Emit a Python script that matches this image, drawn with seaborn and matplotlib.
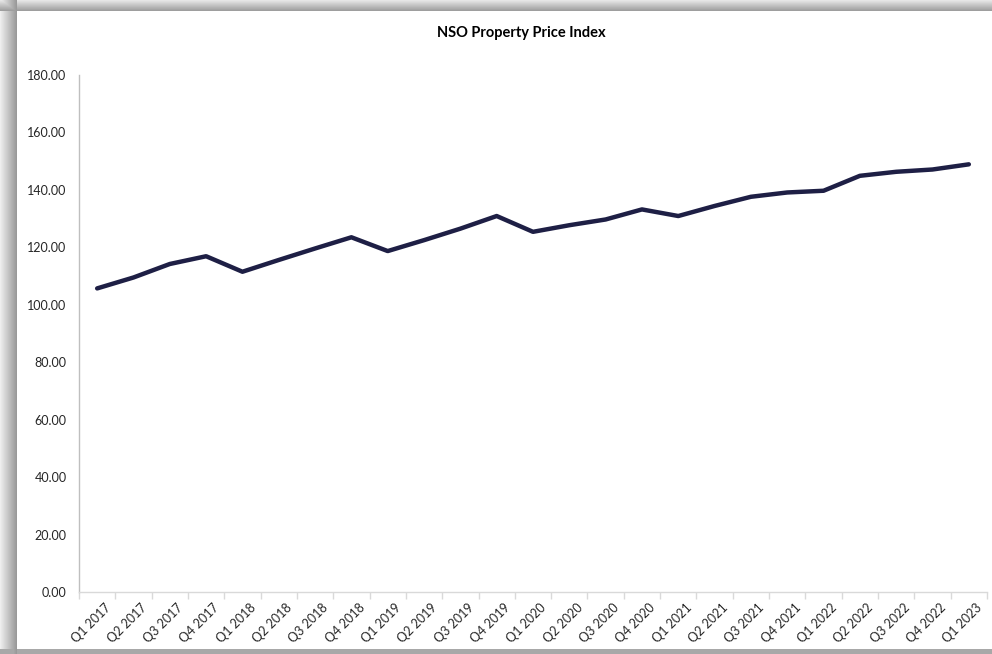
import numpy as np
import pandas as pd
import matplotlib
matplotlib.use("Agg")
import matplotlib.pyplot as plt
from matplotlib.patches import Rectangle
from matplotlib.ticker import FixedLocator, FormatStrFormatter
from matplotlib.transforms import ScaledTranslation
import seaborn as sns

# datos del grafico
trimestres = ["Q1 2017", "Q2 2017", "Q3 2017", "Q4 2017",
              "Q1 2018", "Q2 2018", "Q3 2018", "Q4 2018",
              "Q1 2019", "Q2 2019", "Q3 2019", "Q4 2019",
              "Q1 2020", "Q2 2020", "Q3 2020", "Q4 2020",
              "Q1 2021", "Q2 2021", "Q3 2021", "Q4 2021",
              "Q1 2022", "Q2 2022", "Q3 2022", "Q4 2022",
              "Q1 2023"]
indice = [105.7, 109.5, 114.2, 116.9,
          111.5, 115.6, 119.6, 123.5,
          118.7, 122.5, 126.5, 130.9,
          125.4, 127.7, 129.7, 133.2,
          130.9, 134.4, 137.6, 139.1,
          139.7, 144.9, 146.3, 147.1,
          148.9]
y_ticks = [0, 20, 40, 60, 80, 100, 120, 140, 160, 180]

df = pd.DataFrame({"pos": np.arange(len(trimestres)), "Indice": indice})

sns.set_theme(style="white")
plt.rcParams['font.family'] = ['Lato', 'DejaVu Sans']

W, H = 992, 654
fig = plt.figure(figsize=(W / 100, H / 100), dpi=100)

# sombra del marco (decoracion)
fondo = np.ones((H, W))
fondo[:, :17] = np.linspace(0.93, 0.6, 17)[None, :]
top = np.linspace(0.9, 0.62, 11)[:, None]
fondo[:11, :] = np.minimum(fondo[:11, :], top)
fondo[649:, :] = np.minimum(fondo[649:, :], 0.66)
bg = fig.add_axes([0, 0, 1, 1], zorder=-5)
bg.imshow(fondo, cmap="gray", vmin=0, vmax=1, aspect="auto",
          interpolation="nearest")
bg.axis("off")

ax = fig.add_axes([79 / W, 1 - 592 / H, (987 - 79) / W, (592 - 75) / H])
ax.set_facecolor("white")

sns.lineplot(data=df, x="pos", y="Indice", ax=ax, color="#1e1f45",
             linewidth=3.2, solid_capstyle="round", solid_joinstyle="round")

ax.set_xlim(-0.5, len(trimestres) - 0.5)
ax.set_ylim(0, 180)
ax.set_yticks(y_ticks)
ax.yaxis.set_major_formatter(FormatStrFormatter("%.2f"))
ax.tick_params(axis="y", length=0, pad=9, labelsize=9, labelcolor="#262626")

ax.set_xticks(df["pos"])
ax.set_xticklabels(trimestres, rotation=45, ha="right", rotation_mode="anchor")
ax.xaxis.set_minor_locator(FixedLocator(np.arange(-0.5, len(trimestres), 1.0)))
ax.tick_params(axis="x", which="major", length=0, pad=7, labelsize=9,
               labelcolor="#262626")
ax.tick_params(axis="x", which="minor", bottom=True, length=5, width=1,
               color="#d9d9d9")
desplaza = ScaledTranslation(7 / 100, 0, fig.dpi_scale_trans)
for lbl in ax.get_xticklabels():
    lbl.set_transform(lbl.get_transform() + desplaza)

ax.set_xlabel("")
ax.set_ylabel("")
for s in ["top", "right"]:
    ax.spines[s].set_visible(False)
ax.spines["left"].set_color("#bfbfbf")
ax.spines["bottom"].set_color("#d9d9d9")
ax.spines["left"].set_linewidth(1)
ax.spines["bottom"].set_linewidth(1)

fig.text(521 / W, 1 - 33 / H, "NSO Property Price Index", ha="center",
         va="center", fontsize=10.5, fontweight="bold", color="black")

fig.savefig("out.png", dpi=100)
